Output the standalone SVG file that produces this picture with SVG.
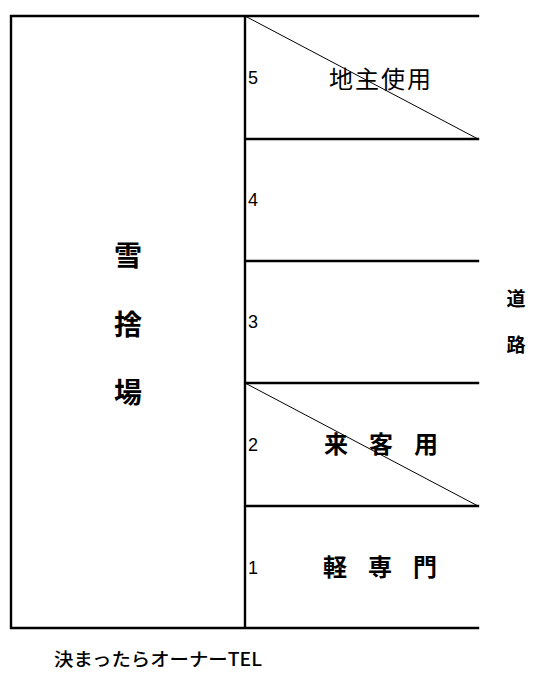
<svg xmlns="http://www.w3.org/2000/svg" width="534" height="688" viewBox="0 0 534 688">
<style>
.ln{stroke:#000;stroke-width:2.4;fill:none;stroke-linecap:square}
.dg{stroke:#000;stroke-width:1;fill:none}
.num{font-family:"Liberation Sans",Arial,sans-serif;font-size:18px;fill:#000}
.jp{font-family:"Noto Sans CJK JP","Liberation Sans",sans-serif;fill:#000}
.b{font-weight:bold}
</style>
<rect width="534" height="688" fill="#fff"/>
<g id="lines">
<path class="ln" d="M11 16H478M11 628H478M11 16V628M245 16V628M245 139H478M245 261H478M245 383H478M245 506H478"/>
<path class="dg" d="M245 16L478 139M245 383L478 506"/>
</g>
<g id="snow">
<text class="jp b" font-size="28" x="128" y="266" text-anchor="middle">雪</text>
<text class="jp b" font-size="28" x="128" y="335" text-anchor="middle">捨</text>
<text class="jp b" font-size="28" x="128" y="403" text-anchor="middle">場</text>
</g>
<g id="road">
<text class="jp b" font-size="19" x="516" y="306" text-anchor="middle">道</text>
<text class="jp b" font-size="19" x="516" y="352" text-anchor="middle">路</text>
</g>
<g id="numbers">
<text class="num" x="248" y="84">5</text>
<text class="num" x="248" y="206">4</text>
<text class="num" x="248" y="328">3</text>
<text class="num" x="248" y="451">2</text>
<text class="num" x="248" y="574">1</text>
</g>
<g id="labels">
<text class="jp" font-size="24" x="329 355 381 407" y="88">地主使用</text>
<text class="jp b" font-size="24" x="324 348 369 393 414" y="453">来 客 用</text>
<text class="jp b" font-size="24" x="323 347 368 392 413" y="576">軽 専 門</text>
<text class="jp" font-size="18" x="54" y="666" textLength="208" lengthAdjust="spacingAndGlyphs" font-weight="500">決まったらオーナーTEL</text>
</g>
</svg>
